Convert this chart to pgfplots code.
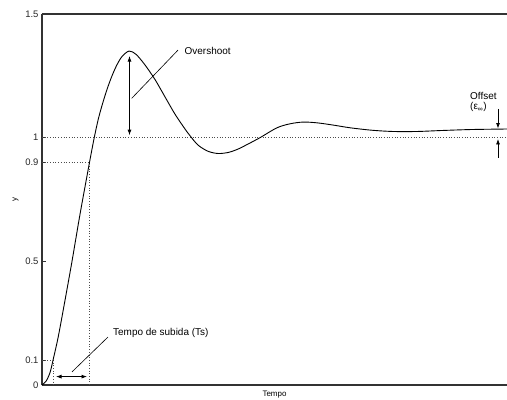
\documentclass[border=0pt]{standalone}
\usepackage{fontspec}
\setmainfont{Liberation Sans}
\usepackage{pgfplots}
\pgfplotsset{compat=1.18}
\usetikzlibrary{arrows.meta}
\begin{document}
\begin{tikzpicture}[
  arr/.style={line width=0.8bp, -{Latex[length=5.5bp,width=4bp]}},
  darr/.style={line width=0.8bp, {Latex[length=5.5bp,width=4bp]}-{Latex[length=5.5bp,width=4bp]}},
  lead/.style={line width=0.6bp},
  ann/.style={font=\fontsize{10}{11}\selectfont, inner sep=0pt}]
\begin{axis}[
  scale only axis,
  width=465bp, height=371bp,
  xmin=0, xmax=465, ymin=0, ymax=1.5,
  axis x line*=box, axis y line*=left,
  axis line style={line width=1.3bp, black!80},
  xtick=\empty,
  ytick={0,0.1,0.5,0.9,1,1.5},
  yticklabels={0,0.1,0.5,0.9,1,1.5},
  tick align=inside,
  major tick length=4bp,
  tick style={line width=0.8bp, black!80},
  /pgf/number format/assume math mode=true,
  tick label style={font=\fontsize{9.5}{10}\selectfont, text=black!85},
  xlabel={Tempo},
  ylabel={y},
  xlabel style={font=\fontsize{8}{9}\selectfont, at={(axis description cs:0.5,0)}, anchor=north, yshift=-2bp},
  ylabel style={font=\fontsize{8}{9}\selectfont, at={(axis description cs:0,0.5)}, anchor=south, yshift=20bp},
  clip=false,
]
% reference dotted lines
\addplot[black!70, dotted, line width=0.7bp] coordinates {(0,1) (465,1)};
\addplot[black!70, dotted, line width=0.7bp] coordinates {(0,0.9) (47.5,0.9) (47.5,0)};
\addplot[black!70, dotted, line width=0.7bp] coordinates {(0,0.1) (11,0.1) (11,0)};
% step response
\addplot[black, line width=0.9bp, smooth] coordinates {
(0,0) (4,0.015) (8,0.05) (11,0.1) (16,0.19) (22,0.32) (30,0.5) (38,0.69)
(47.5,0.9) (52,0.995) (56,1.07) (60,1.13) (65,1.195) (70,1.25) (75,1.295) (80,1.328) (87,1.35)
(94,1.337) (103,1.294) (113,1.235) (123,1.165) (133,1.095) (143,1.035) (148,1.008)
(156,0.97) (166,0.945) (176,0.936) (186,0.94) (195,0.952) (205,0.972) (218,1.0)
(235,1.04) (248,1.056) (261,1.063) (275,1.06) (291,1.051) (308,1.04) (330,1.03)
(351,1.025) (375,1.025) (400,1.029) (430,1.033) (465,1.035)};
% annotations
\draw[darr] (axis cs:14,0.034) -- (axis cs:45,0.034);
\draw[lead] (axis cs:30,0.053) -- (axis cs:66,0.194);
\node[ann, anchor=west] at (axis cs:71,0.209) {Tempo de subida (Ts)};
\draw[darr] (axis cs:87.5,1.33) -- (axis cs:87.5,1.01);
\draw[lead] (axis cs:89.7,1.159) -- (axis cs:136,1.354);
\node[ann, anchor=west] at (axis cs:142.5,1.35) {Overshoot};
\node[ann, anchor=west] at (axis cs:428,1.168) {Offset};
\node[ann, anchor=west] at (axis cs:428,1.124) {(ε\textsubscript{∞})};
\draw[arr] (axis cs:456,1.116) -- (axis cs:456,1.037);
\draw[arr] (axis cs:456,0.918) -- (axis cs:456,0.995);
\end{axis}
\pgfresetboundingbox
\path (-42bp,-15bp) rectangle (465bp,385bp);
\end{tikzpicture}
\end{document}
